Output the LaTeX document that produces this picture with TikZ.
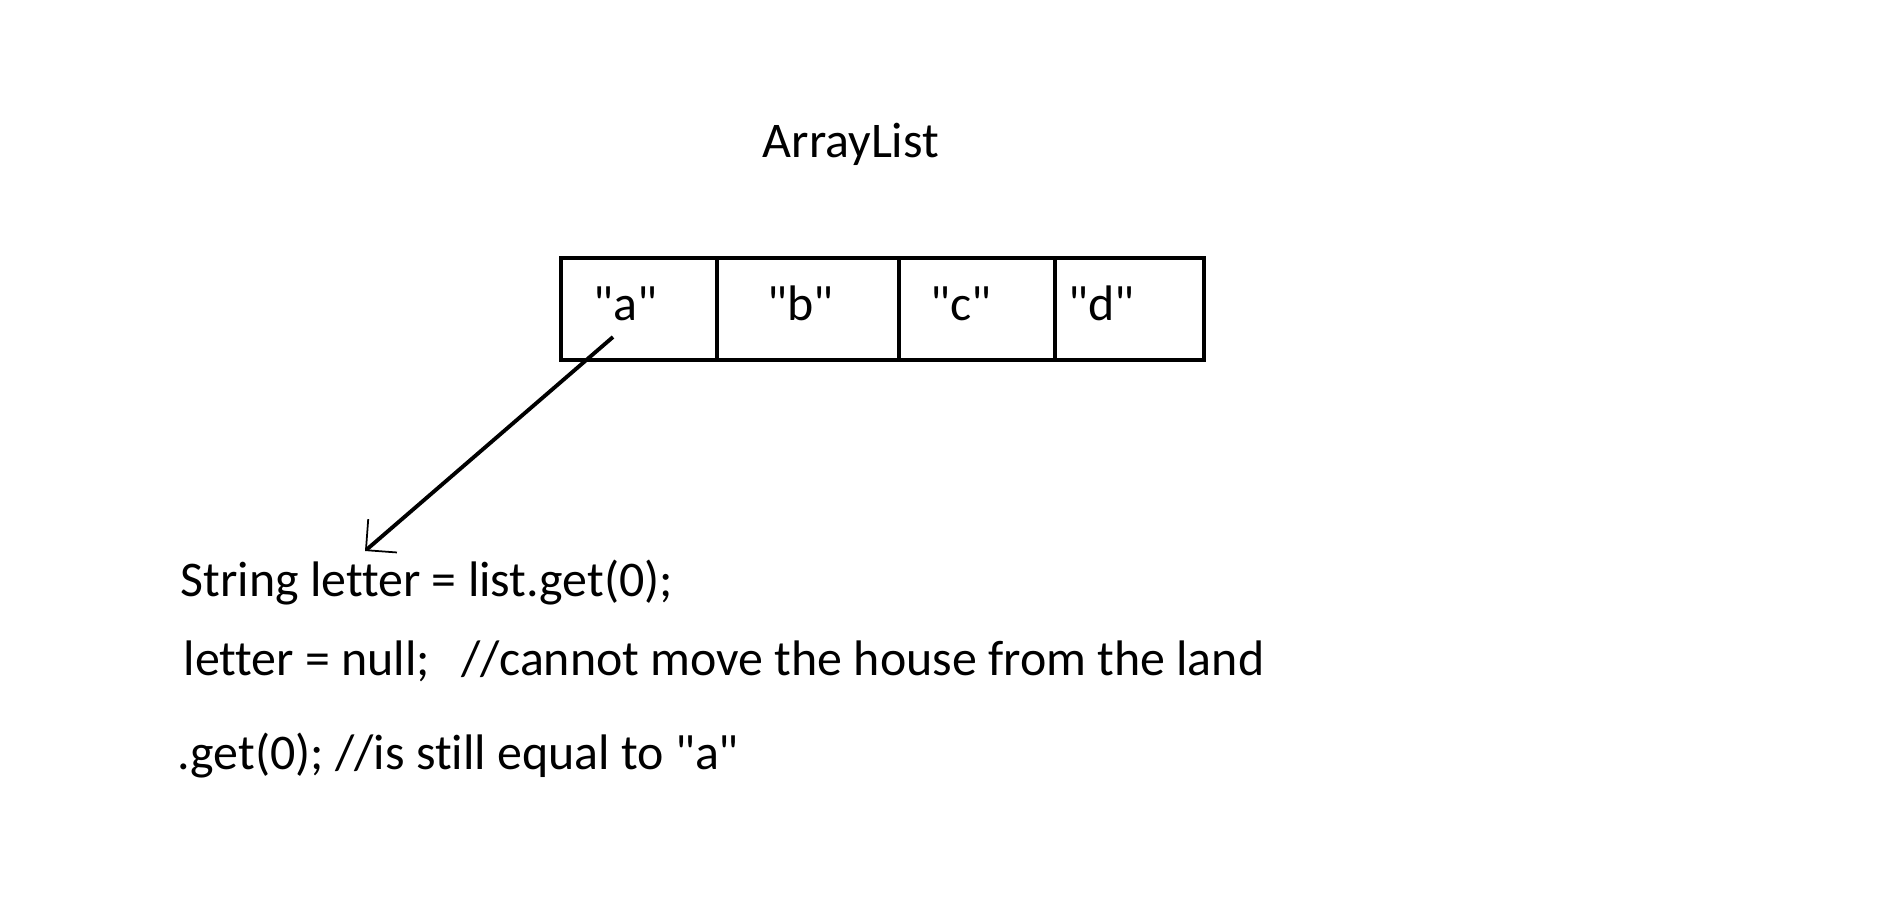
\documentclass[tikz,border=0pt]{standalone}
\usepackage{fontspec}
\setmainfont{Carlito}[Ligatures=CommonOff]
\usepackage{tikz}
\usetikzlibrary{arrows.meta, positioning}
\newcommand{\dq}{\textquotedbl}

\begin{document}
\begin{tikzpicture}[transform shape,
	cell/.style={draw, line width=1.4pt, minimum height=1.02cm, inner sep=0pt},
	txt/.style={anchor=base west, inner sep=0pt, font=\fontsize{14.2pt}{17pt}\selectfont},
	ptr/.style={line width=1.1pt, -{Straight Barb[length=2.2mm, width=4.4mm, line width=0.5pt]}}]
	\useasboundingbox (0, 0) rectangle (18.79, 9.20);
	% Title and the array cells:
	\node[txt](title) at (7.62, 7.63){ArrayList};
	\node[cell, minimum width=1.56cm](cellA) at (6.39, 6.11){};
	\node[cell, minimum width=1.82cm](cellB) at (8.08, 6.11){};
	\node[cell, minimum width=1.56cm](cellC) at (9.77, 6.11){};
	\node[cell, minimum width=1.49cm](cellD) at (11.295, 6.11){};
	\node[txt](valA) at (5.93, 6.00){\dq a\dq};
	\node[txt](valB) at (7.67, 6.00){\dq b\dq};
	\node[txt](valC) at (9.30, 6.00){\dq c\dq};
	\node[txt](valD) at (10.68, 6.00){\dq d\dq};
	% Code lines:
	\node[txt](line1) at (1.80, 3.24){String letter = list.get(0);};
	\node[txt](line2) at (1.83, 2.45){letter = null;};
	\node[txt](note2) at (4.61, 2.45){//cannot move the house from the land};
	\node[txt](line3) at (1.77, 1.51){.get(0); //is still equal to \dq a\dq};
	% Reference arrow:
	\coordinate (src) at (6.13, 5.83);
	\coordinate (tip) at (3.65, 3.69);
	\draw[ptr] (src) -- (tip);
\end{tikzpicture}
\end{document}
